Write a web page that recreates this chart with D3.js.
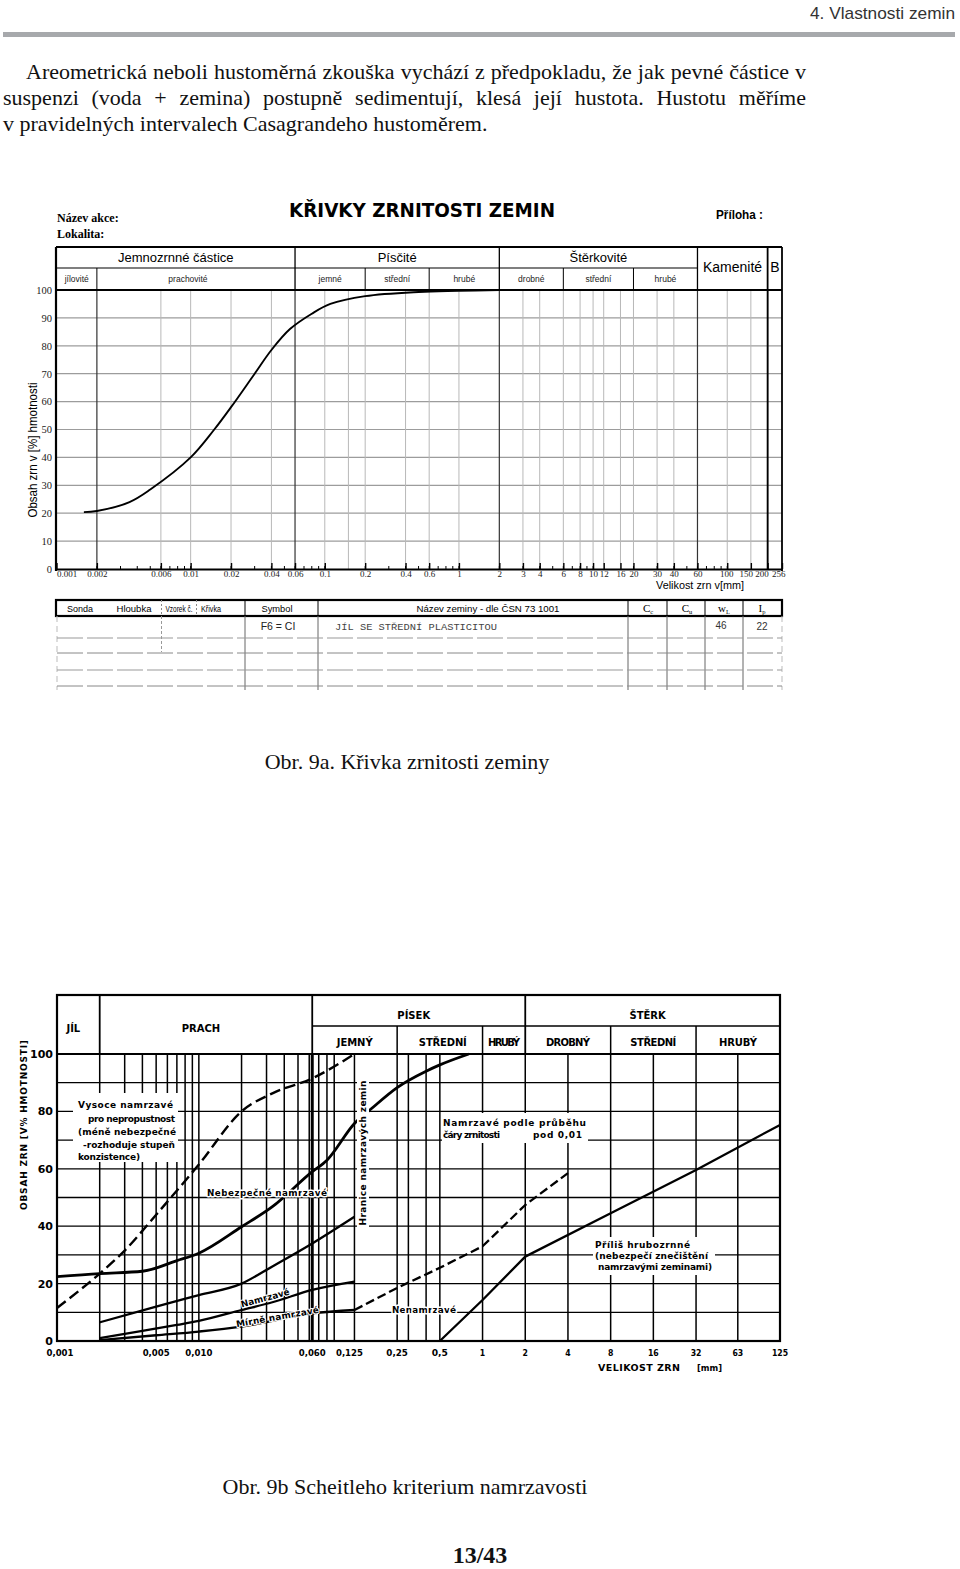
<!DOCTYPE html>
<html lang="cs"><head><meta charset="utf-8"><title>Křivka zrnitosti</title>
<script src="https://cdnjs.cloudflare.com/ajax/libs/d3/7.8.5/d3.min.js"></script>
<style>
html,body{margin:0;padding:0;background:#fff}
#page{position:relative;width:960px;height:1569px;overflow:hidden;background:#fff}
#page svg{position:absolute;left:0;top:0}
</style></head><body><div id="page"></div>
<script>
// ================= DATA =================
const pageSection = "4. Vlastnosti zemin";
const paragraphLines = [
  "Areometrická neboli hustoměrná zkouška vychází z předpokladu, že jak pevné částice v",
  "suspenzi (voda + zemina) postupně sedimentují, klesá její hustota. Hustotu měříme",
  "v pravidelných intervalech Casagrandeho hustoměrem."
];
const caption1 = "Obr. 9a. Křivka zrnitosti zeminy";
const caption2 = "Obr. 9b Scheitleho kriterium namrzavosti";
const pageNumber = "13/43";

// ---- Chart 1 (Obr. 9a) ----
const c1Title = "KŘIVKY ZRNITOSTI ZEMIN";
const c1Domain = [0.001, 256];
const c1GrainSize = [0.0016, 0.002, 0.0035, 0.005, 0.01, 0.015, 0.02, 0.03, 0.04, 0.055, 0.08, 0.11, 0.2, 0.5, 1, 2];
const c1Passing   = [20.4, 20.8, 24, 28.5, 40, 50, 58, 70, 78.5, 86, 91.5, 95, 97.8, 99.3, 99.7, 100];
const c1XTicks = [0.001,0.002,0.006,0.01,0.02,0.04,0.06,0.1,0.2,0.4,0.6,1,2,3,4,6,8,10,12,16,20,30,40,60,100,150,200,256];
const c1XTickLabels = ["0.001","0.002","0.006","0.01","0.02","0.04","0.06","0.1","0.2","0.4","0.6","1","2","3","4","6","8","10","12","16","20","30","40","60","100","150","200","256"];
const c1Grid = [0.002,0.006,0.01,0.02,0.04,0.06,0.1,0.15,0.2,0.4,0.6,1,2,3,4,6,8,10,12,16,20,30,40,60,100,150,200];
const c1MajorGrid = [0.002,0.06,2,60,200];
const c1YTicks = [0,10,20,30,40,50,60,70,80,90,100];
const c1Groups = ["Jemnozrnné částice","Písčité","Štěrkovité"];
const c1GroupBounds = [0.001,0.06,2,60];
const c1Subgroups = ["jílovité","prachovité","jemné","střední","hrubé","drobné","střední","hrubé"];
const c1SubBounds = [0.001,0.002,0.06,0.2,0.6,2,6,20,60];
const c1Stones = ["Kamenité","B"];
const c1StoneBounds = [60,200,256];
const c1TableHead = ["Sonda","Hloubka","Vzorek č.","Křivka","Symbol","Název zeminy - dle ČSN 73 1001","C","C","w","I"];
const c1TableHeadSub = ["","","","","","","c","u","L","p"];
const c1TableRow = ["","","","","F6 = CI","JÍL SE STŘEDNÍ PLASTICITOU","","","46","22"];

// ---- Chart 2 (Obr. 9b) ----
const c2Domain = [0.001, 125];
const c2Groups = ["JÍL","PRACH","PÍSEK","ŠTĚRK"];
const c2GroupBounds = [0.001,0.002,0.063,2,125];
const c2Subgroups = ["JEMNÝ","STŘEDNÍ","HRUBÝ","DROBNÝ","STŘEDNÍ","HRUBÝ"];
const c2SubBounds = [0.063,0.25,1,2,8,32,125];
const c2XTicks = [0.001,0.005,0.01,0.063,0.125,0.25,0.5,1,2,4,8,16,32,63,125];
const c2XTickLabels = ["0,001","0,005","0,010","0,060","0,125","0,25","0,5","1","2","4","8","16","32","63","125"];
const c2Grid = [0.002,0.003,0.004,0.005,0.006,0.007,0.008,0.009,0.01,0.02,0.03,0.04,0.05,0.06,0.063,0.07,0.08,0.09,0.125,0.25,0.3,0.4,0.5,1,2,4,8,16,32,63];
const c2YGrid = [10,20,30,40,50,60,70,80,90];
const c2YTicks = [0,20,40,60,80,100];
// boundary curves (grain size mm, % passing)
const c2HighSize  = [0.001,0.002,0.003,0.005,0.01,0.02,0.033,0.063,0.125];       // dashed: vysoce namrzavé
const c2HighPass  = [11.5,23.5,31.5,44,61.5,80,86.3,91.5,100];
const c2DangerSize = [0.001,0.002,0.004,0.007,0.01,0.02,0.033,0.063,0.08,0.125,0.165,0.25,0.4,0.5,0.8];
const c2DangerPass = [22.4,23.5,24.3,28,30.6,39.8,46.8,59,63,75.8,81,88.3,94,96.2,100];
const c2FrostSize = [0.002,0.005,0.01,0.02,0.033,0.063,0.125];
const c2FrostPass = [6.5,12,16,20,26,34,43.3];
const c2MildSize  = [0.002,0.004,0.007,0.01,0.02,0.033,0.063,0.125];
const c2MildPass  = [1,3.5,5.6,7,10.8,13.5,17.8,20.7];
const c2LowSize   = [0.002,0.005,0.01,0.02,0.063,0.125];
const c2LowPass   = [0.3,2,3.3,5,9.6,10.8];
const c2NonSize   = [0.125,0.25,0.5,1,2,4];                                       // dashed: nenamrzavé
const c2NonPass   = [10.8,18.5,25.5,33,47.4,58.5];
const c2CoarseSize = [0.5,1,2,8,32,125];                                          // příliš hrubozrnné
const c2CoarsePass = [0,14.3,29.4,44.5,59.6,75.3];

// ================= DRAW =================
const SERIF = '"Liberation Serif","Times New Roman",serif';
const SANS  = '"Liberation Sans",Arial,sans-serif';
const NARROW = '"Liberation Sans Narrow","Liberation Sans",Arial,sans-serif';
const TECH  = '"DejaVu Sans",Verdana,sans-serif';
const MONO  = '"Liberation Mono","DejaVu Sans Mono",monospace';

const svg = d3.select("#page").append("svg").attr("width",960).attr("height",1569);
svg.append("rect").attr("width",960).attr("height",1569).attr("fill","#fff");

function T(p,x,y,s,o={}){
  const t=p.append("text").attr("x",x).attr("y",y).text(s)
    .attr("font-family",o.ff||SANS).attr("font-size",o.fs||10).attr("fill",o.fill||"#000");
  if(o.fw) t.attr("font-weight",o.fw);
  if(o.anchor) t.attr("text-anchor",o.anchor);
  if(o.len) t.attr("textLength",o.len).attr("lengthAdjust",o.adj||"spacingAndGlyphs");
  if(o.rot!=null) t.attr("transform",`rotate(${o.rot},${x},${y})`);
  if(o.halo) t.attr("stroke","#fff").attr("stroke-width",o.halo).attr("paint-order","stroke").attr("stroke-linejoin","round");
  return t;
}
function L(p,x1,y1,x2,y2,c,w,da){
  const l=p.append("line").attr("x1",x1).attr("y1",y1).attr("x2",x2).attr("y2",y2).attr("stroke",c||"#000").attr("stroke-width",w||1);
  if(da) l.attr("stroke-dasharray",da);
  return l;
}

// ---- page header ----
T(svg,955,19,pageSection,{ff:NARROW,fs:17,fill:"#333",anchor:"end",len:145});
svg.append("rect").attr("x",3).attr("y",32).attr("width",952).attr("height",5).attr("fill","#a7a9ac");

// ---- paragraph (justified) ----
const pY=[79,105,131], pX=[[26,806],[3,806],[3,null]];
paragraphLines.forEach((s,i)=>{
  const t=T(svg,pX[i][0],pY[i],s,{ff:SERIF,fs:22,fill:"#111"});
  if(pX[i][1]){
    const nat=t.node().getComputedTextLength();
    const n=(s.match(/ /g)||[]).length;
    t.style("word-spacing",((pX[i][1]-pX[i][0]-nat)/n)+"px");
  }
});

// ================= CHART 1 =================
const g1=svg.append("g");
const x1=d3.scaleLog().domain(c1Domain).range([56.5,782]);
const y1=d3.scaleLinear().domain([0,100]).range([569,290]);
const hTop=247,hMid=268,hBot=y1(100);

T(g1,57,222,"Název akce:",{ff:SERIF,fs:12,fw:"bold"});
T(g1,57,238,"Lokalita:",{ff:SERIF,fs:12,fw:"bold"});
T(g1,289,217,c1Title,{ff:TECH,fs:20,fw:"bold",len:266});
T(g1,716,219,"Příloha :",{ff:SANS,fs:12,fw:"bold",len:47});

// grid
g1.selectAll(".hg").data(c1YTicks.filter(v=>v>0&&v<100)).join("line")
  .attr("x1",56).attr("x2",782).attr("y1",d=>y1(d)).attr("y2",d=>y1(d))
  .attr("stroke","#9c9c9c").attr("stroke-width",1.2);
g1.selectAll(".vg").data(c1Grid).join("line")
  .attr("x1",d=>x1(d)).attr("x2",d=>x1(d)).attr("y1",hBot).attr("y2",569)
  .attr("stroke",d=>c1MajorGrid.includes(d)?"#333":"#b8b8b8")
  .attr("stroke-width",d=>c1MajorGrid.includes(d)?1.2:1);

// header cells
L(g1,56,hTop,782,hTop,"#000",1.8);
L(g1,56,hMid,x1(60),hMid,"#000",1.2);
L(g1,56,hBot,782,hBot,"#000",2.2);
c1GroupBounds.slice(1).forEach(v=>L(g1,x1(v),hTop,x1(v),hBot,"#000",1.3));
c1SubBounds.slice(1,-1).forEach(v=>{ if(!c1GroupBounds.includes(v)) L(g1,x1(v),hMid,x1(v),hBot,"#000",1);});
L(g1,x1(200),hTop,x1(200),569,"#000",1.8);
c1Groups.forEach((s,i)=>T(g1,(x1(c1GroupBounds[i])+x1(c1GroupBounds[i+1]))/2,262,s,{fs:13,anchor:"middle"}));
c1Subgroups.forEach((s,i)=>T(g1,(x1(c1SubBounds[i])+x1(c1SubBounds[i+1]))/2 + (i===1?-8:0),282,s,{fs:8.5,anchor:"middle",fill:"#222"}));
c1Stones.forEach((s,i)=>T(g1,(x1(c1StoneBounds[i])+x1(c1StoneBounds[i+1]))/2,272,s,{fs:14,anchor:"middle"}));

// minor ticks along bottom
const minor=[];
for(let e=-3;e<=2;e++) for(let m=1;m<10;m++){const v=m*Math.pow(10,e); if(v>c1Domain[0]&&v<c1Domain[1]) minor.push(v);}
g1.selectAll(".mt").data(minor).join("line").attr("x1",d=>x1(d)).attr("x2",d=>x1(d)).attr("y1",569).attr("y2",566).attr("stroke","#000").attr("stroke-width",1);

// axes
const ax1=d3.axisBottom(x1).tickValues(c1XTicks).tickFormat(d=>c1XTickLabels[c1XTicks.indexOf(d)]).tickSizeInner(-6).tickSizeOuter(0).tickPadding(2);
const gx1=g1.append("g").attr("transform","translate(0,569)").call(ax1);
gx1.select(".domain").attr("stroke","#000").attr("stroke-width",2.2);
gx1.selectAll(".tick line").attr("stroke","#000").attr("stroke-width",1.4);
gx1.selectAll(".tick text").attr("font-family",SERIF).attr("font-size",9).attr("fill","#222");
const labelShift={0.001:0,100:-1,150:-5,200:-6,256:3};
gx1.selectAll(".tick text").filter(d=>d===0.001).attr("text-anchor","start");
gx1.selectAll(".tick text").filter(d=>d===256).attr("text-anchor","end");
gx1.selectAll(".tick text").filter(d=>d in labelShift).attr("dx",d=>labelShift[d]);
const ay1=d3.axisLeft(y1).tickValues(c1YTicks).tickSize(0).tickPadding(4);
const gy1=g1.append("g").attr("transform","translate(56,0)").call(ay1);
gy1.select(".domain").remove();
gy1.selectAll(".tick text").attr("font-family",SERIF).attr("font-size",10.5).attr("fill","#222");
L(g1,56,hTop,56,571,"#000",2.2);
L(g1,782,hTop,782,571,"#000",1.8);
T(g1,37,450,"Obsah zrn v [%] hmotnosti",{fs:12,anchor:"middle",rot:-90,len:135});
T(g1,656,589,"Velikost zrn v[mm]",{fs:10.5,len:88});

// grading curve
const line1=d3.line().x((d,i)=>x1(c1GrainSize[i])).y((d,i)=>y1(c1Passing[i])).curve(d3.curveCatmullRom.alpha(0.5));
g1.append("path").attr("d",line1(c1GrainSize)).attr("fill","none").attr("stroke","#000").attr("stroke-width",1.9);

// table
const tTop=600,tHB=616,tRows=[638,653,670,686],tEnd=690;
const tHeadX=[80,134,179,211,277,488,648,687,724,762];
const tHeadLen=[26,35,27,20,31,143,0,0,0,0];
g1.append("rect").attr("x",56).attr("y",tTop).attr("width",726).attr("height",tHB-tTop).attr("fill","none").attr("stroke","#000").attr("stroke-width",2.2);
[245,318,628,667,705,743].forEach(x=>L(g1,x,tTop,x,tHB,"#000",1));
[161.5,196.5].forEach(x=>L(g1,x,tTop,x,tHB,"#888",1,"2,2"));
[245,318,628,667,705,743].forEach(x=>L(g1,x,tHB,x,tEnd,"#666",1));
L(g1,161.5,tHB,161.5,652,"#999",1,"3,2");
L(g1,57,tHB,57,tEnd,"#bbb",1,"6,4");
L(g1,782,tHB,782,tEnd,"#bbb",1,"6,4");
tRows.forEach((y,i)=>L(g1,57,y,782,y,i%2?"#888":"#999",1,"26,4"));
c1TableHead.forEach((s,i)=>{
  const sub=c1TableHeadSub[i];
  const t=T(g1,tHeadX[i],612,s,sub?{ff:SERIF,fs:11,anchor:"middle"}:{ff:SANS,fs:9,anchor:"middle",len:tHeadLen[i]});
  if(sub) t.append("tspan").attr("font-size",6.5).attr("dy",2).text(sub);
});
T(g1,278,630,c1TableRow[4],{fs:10.5,anchor:"middle",fill:"#222"});
T(g1,335,630,c1TableRow[5],{ff:MONO,fs:9.5,fill:"#444",len:162});
T(g1,721,629,c1TableRow[8],{fs:10,anchor:"middle",fill:"#333"});
T(g1,762,630,c1TableRow[9],{fs:10,anchor:"middle",fill:"#333"});

T(svg,407,769,caption1,{ff:SERIF,fs:22,anchor:"middle",fill:"#111"});

// ================= CHART 2 =================
const g2=svg.append("g");
const x2=d3.scaleLog().domain(c2Domain).range([57,780]);
const y2=d3.scaleLinear().domain([0,100]).range([1341,1054]);
const bTop=995,bMid=1026,bBot=y2(100);

// grid
g2.selectAll(".vg").data(c2Grid).join("line")
  .attr("x1",d=>x2(d)).attr("x2",d=>x2(d)).attr("y1",bBot).attr("y2",1341)
  .attr("stroke","#000").attr("stroke-width",d=>d===0.063?3:1.5);
g2.selectAll(".hg").data(c2YGrid).join("line")
  .attr("x1",57).attr("x2",780).attr("y1",d=>y2(d)).attr("y2",d=>y2(d))
  .attr("stroke","#000").attr("stroke-width",1.3);

// header
g2.append("rect").attr("x",57).attr("y",bTop).attr("width",723).attr("height",1341-bTop).attr("fill","none").attr("stroke","#000").attr("stroke-width",2.2);
L(g2,57,bBot,780,bBot,"#000",1.8);
L(g2,x2(0.063),bMid,780,bMid,"#000",1.5);
c2GroupBounds.slice(1,-1).forEach(v=>L(g2,x2(v),bTop,x2(v),bBot,"#000",1.8));
c2SubBounds.slice(1,-1).forEach(v=>{ if(!c2GroupBounds.includes(v)) L(g2,x2(v),bMid,x2(v),bBot,"#000",1.5);});
const gC=c2Groups.map((s,i)=>(x2(c2GroupBounds[i])+x2(c2GroupBounds[i+1]))/2-5);
T(g2,gC[0],1032,c2Groups[0],{ff:TECH,fs:10,fw:"bold",anchor:"middle"});
T(g2,gC[1],1032,c2Groups[1],{ff:TECH,fs:10,fw:"bold",anchor:"middle"});
T(g2,gC[2],1019,c2Groups[2],{ff:TECH,fs:10,fw:"bold",anchor:"middle"});
T(g2,gC[3],1019,c2Groups[3],{ff:TECH,fs:10,fw:"bold",anchor:"middle"});
const subLen=[36,48,32,44,46,38];
c2Subgroups.forEach((s,i)=>T(g2,(x2(c2SubBounds[i])+x2(c2SubBounds[i+1]))/2+(i===1?3:0),1046,s,{ff:TECH,fs:10,fw:"bold",anchor:"middle",len:subLen[i],adj:"spacing"}));

// curves
function curve(sz,ps,w,da,cv){
  const ln=d3.line().x((d,i)=>x2(sz[i])).y((d,i)=>y2(ps[i])).curve(cv||d3.curveMonotoneX);
  const p=g2.append("path").attr("d",ln(sz)).attr("fill","none").attr("stroke","#000").attr("stroke-width",w).attr("stroke-linejoin","round");
  if(da) p.attr("stroke-dasharray",da);
}
curve(c2HighSize,c2HighPass,2.4,"11,5");
curve(c2DangerSize,c2DangerPass,2.8);
curve(c2FrostSize,c2FrostPass,2.3);
curve(c2MildSize,c2MildPass,2.3);
curve(c2LowSize,c2LowPass,2.3);
curve(c2NonSize,c2NonPass,2.3,"9,4",d3.curveLinear);
curve(c2CoarseSize,c2CoarsePass,2.3,null,d3.curveLinear);

// white label boxes
[[73,1093,105,69],[357,1076,12,152],[442,1113,146,30],[593,1237,122,38]].forEach(b=>
  g2.append("rect").attr("x",b[0]).attr("y",b[1]).attr("width",b[2]).attr("height",b[3]).attr("fill","#fff"));

// annotations
const A={ff:TECH,fs:9,fw:"bold",adj:"spacing"};
T(g2,78,1108,"Vysoce namrzavé",{...A,len:95});
T(g2,88,1122,"pro nepropustnost",{...A,len:87});
T(g2,78,1135,"(méně nebezpečné",{...A,len:98});
T(g2,83,1148,"-rozhoduje stupeň",{...A,len:92});
T(g2,78,1160,"konzistence)",{...A,len:62});
T(g2,207,1196,"Nebezpečné namrzavé",{...A,len:120,halo:3});
T(g2,266,1301,"Namrzavé",{...A,anchor:"middle",len:50,rot:-15,halo:2});
T(g2,278,1320,"Mírně namrzavé",{...A,anchor:"middle",len:84,rot:-10,halo:2});
T(g2,366,1153,"Hranice namrzavých zemin",{...A,anchor:"middle",len:145,rot:-90});
T(g2,443,1126,"Namrzavé podle průběhu",{...A,len:143});
T(g2,443,1138,"čáry zrnitosti",{...A,len:57});
T(g2,533,1138,"pod 0,01",{...A,len:49});
T(g2,595,1248,"Příliš hrubozrnné",{...A,len:95});
T(g2,595,1259,"(nebezpečí znečištění",{...A,len:113});
T(g2,598,1270,"namrzavými zeminami)",{...A,len:114});
T(g2,392,1313,"Nenamrzavé",{...A,len:64,halo:3});

// axes labels
c2YTicks.forEach(v=>T(g2,53,y2(v)+4,String(v),{ff:TECH,fs:11,fw:"bold",anchor:"end"}));
c2XTicks.forEach((v,i)=>T(g2,x2(v)+(i===0?3:0)-(v===0.125?5:0),1356,c2XTickLabels[i],{ff:TECH,fs:9,fw:"bold",anchor:"middle",len:c2XTickLabels[i].length*5.4,adj:"spacingAndGlyphs"}));
T(g2,598,1371,"VELIKOST ZRN",{ff:TECH,fs:9.5,fw:"bold",len:82,adj:"spacing"});
T(g2,697,1371,"[mm]",{ff:TECH,fs:9.5,fw:"bold",len:25});
T(g2,27,1125,"OBSAH ZRN  [V%  HMOTNOSTI]",{ff:TECH,fs:9,fw:"bold",anchor:"middle",rot:-90,len:170,adj:"spacing"});

T(svg,405,1494,caption2,{ff:SERIF,fs:22,anchor:"middle",fill:"#111"});
T(svg,480,1563,pageNumber,{ff:SERIF,fs:24,fw:"bold",anchor:"middle",fill:"#111"});
</script></body></html>
